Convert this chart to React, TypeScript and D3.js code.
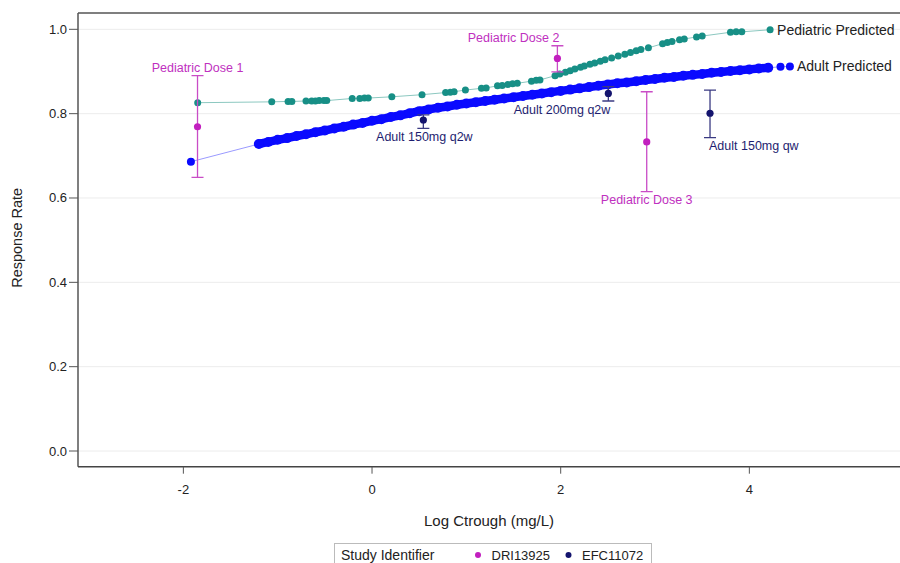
import React from "react";
import * as d3 from "d3";

// ---- Data ----
const pedPredX = [-1.848, -1.063, -0.89, -0.85, -0.7, -0.64, -0.6, -0.56, -0.51, -0.48, -0.21, -0.13, -0.08, -0.04, 0.21, 0.53, 0.78, 0.83, 0.87, 0.99, 1.16, 1.21, 1.33, 1.38, 1.44, 1.49, 1.54, 1.69, 1.74, 1.78, 1.94, 1.99, 2.05, 2.1, 2.15, 2.21, 2.25, 2.31, 2.36, 2.42, 2.47, 2.54, 2.61, 2.68, 2.74, 2.8, 2.85, 2.93, 3.08, 3.13, 3.18, 3.26, 3.31, 3.44, 3.5, 3.8, 3.86, 3.92, 4.22];
const pedPredY = [0.826, 0.828, 0.829, 0.829, 0.83, 0.83, 0.83, 0.831, 0.831, 0.831, 0.836, 0.836, 0.837, 0.837, 0.84, 0.845, 0.85, 0.851, 0.852, 0.856, 0.86, 0.861, 0.866, 0.867, 0.869, 0.871, 0.872, 0.877, 0.879, 0.88, 0.89, 0.894, 0.898, 0.902, 0.906, 0.91, 0.913, 0.917, 0.92, 0.924, 0.928, 0.932, 0.937, 0.941, 0.945, 0.949, 0.952, 0.956, 0.966, 0.969, 0.971, 0.975, 0.977, 0.982, 0.984, 0.993, 0.994, 0.994, 0.999];

const adultPredX = [-1.92, -1.2, -1.1, -1.0, -0.9, -0.8, -0.7, -0.6, -0.5, -0.4, -0.3, -0.2, -0.1, 0.0, 0.1, 0.2, 0.3, 0.4, 0.5, 0.6, 0.7, 0.8, 0.9, 1.0, 1.1, 1.2, 1.3, 1.4, 1.5, 1.6, 1.7, 1.8, 1.9, 2.0, 2.1, 2.2, 2.3, 2.4, 2.5, 2.6, 2.7, 2.8, 2.9, 3.0, 3.1, 3.2, 3.3, 3.4, 3.5, 3.6, 3.7, 3.8, 3.9, 4.0, 4.1, 4.2, 4.33, 4.43];
const adultPredY = [0.686, 0.728, 0.733, 0.738, 0.742, 0.747, 0.751, 0.756, 0.76, 0.765, 0.769, 0.774, 0.778, 0.783, 0.787, 0.792, 0.796, 0.801, 0.806, 0.81, 0.814, 0.817, 0.821, 0.824, 0.827, 0.83, 0.833, 0.836, 0.839, 0.842, 0.845, 0.848, 0.851, 0.854, 0.857, 0.86, 0.863, 0.866, 0.869, 0.872, 0.874, 0.877, 0.88, 0.882, 0.885, 0.887, 0.89, 0.892, 0.894, 0.897, 0.899, 0.901, 0.903, 0.905, 0.907, 0.909, 0.911, 0.912];

const obsLabels = ["Pediatric Dose 1", "Pediatric Dose 2", "Pediatric Dose 3", "Adult 150mg q2w", "Adult 200mg q2w", "Adult 150mg qw"];
const obsStudy = ["DRI13925", "DRI13925", "DRI13925", "EFC11072", "EFC11072", "EFC11072"];
const obsX = [-1.85, 1.965, 2.912, 0.544, 2.505, 3.583];
const obsY = [0.769, 0.931, 0.733, 0.785, 0.848, 0.801];
const obsLow = [0.649, 0.899, 0.615, 0.765, 0.83, 0.743];
const obsHigh = [0.89, 0.961, 0.852, 0.797, 0.864, 0.856];

const xTicks = [-2, 0, 2, 4];
const yTicks = [0.0, 0.2, 0.4, 0.6, 0.8, 1.0];
const studies = ["DRI13925", "EFC11072"];

// ---- Layout / style (not data) ----
const W = 900, H = 563;
const plotLeft = 78, plotRight = 905, plotTop = 13, plotBottom = 466.7;
const labelPlacement: { pos: "above" | "below"; anchor: "start" | "middle" | "end"; dx: number }[] = [
  { pos: "above", anchor: "middle", dx: 0 },
  { pos: "above", anchor: "end", dx: 2 },
  { pos: "below", anchor: "middle", dx: 0 },
  { pos: "below", anchor: "middle", dx: 1 },
  { pos: "below", anchor: "end", dx: 2 },
  { pos: "below", anchor: "start", dx: -1 },
];
const studyColor: Record<string, string> = { DRI13925: "#c21fbf", EFC11072: "#14146e" };
const studyBarColor: Record<string, string> = { DRI13925: "#c94cc6", EFC11072: "#3a3a82" };
const studyTextColor: Record<string, string> = { DRI13925: "#c030c0", EFC11072: "#1e1e70" };
const FONT = "'Liberation Sans', Arial, sans-serif";

export default function App() {
  const x = d3.scaleLinear().domain([-3.117, 5.65]).range([plotLeft, plotRight]);
  const y = d3.scaleLinear().domain([-0.0372, 1.0387]).range([plotBottom, plotTop]);

  const ped = pedPredX.map((v, i) => [v, pedPredY[i]] as [number, number]);
  const adult = adultPredX.map((v, i) => [v, adultPredY[i]] as [number, number]);
  const adultDense = adult.slice(1, adult.length - 2);
  const line = d3.line<[number, number]>().x((d) => x(d[0])).y((d) => y(d[1]));
  const fmt = d3.format(".1f");

  const pedLast = ped[ped.length - 1];
  const adultLast = adult[adult.length - 1];

  return (
    <svg width={W} height={H} style={{ position: "absolute", left: 0, top: 0, background: "#fff" }} fontFamily={FONT}>
      <defs>
        <clipPath id="plotclip">
          <rect x={plotLeft} y={plotTop} width={plotRight - plotLeft} height={plotBottom - plotTop} />
        </clipPath>
      </defs>
      {/* grid */}
      {yTicks.map((t) => (
        <line key={"g" + t} x1={plotLeft} x2={plotRight} y1={y(t)} y2={y(t)} stroke="#ececec" strokeWidth={1} />
      ))}

      <g clipPath="url(#plotclip)">
        {/* predicted lines */}
        <path d={line(ped) || ""} fill="none" stroke="#8cc8c0" strokeWidth={1} />
        <path d={line(adult) || ""} fill="none" stroke="#9a9aff" strokeWidth={1} />
        <path d={line(adultDense) || ""} fill="none" stroke="#0a0aff" strokeWidth={8.5} strokeLinecap="round" />
        {adult.map((d, i) => (
          <circle key={"a" + i} cx={x(d[0])} cy={y(d[1])} r={i === 0 || i >= adult.length - 2 ? 4 : 5} fill="#0a0aff" />
        ))}
        {ped.map((d, i) => (
          <circle key={"p" + i} cx={x(d[0])} cy={y(d[1])} r={3.5} fill="#178f86" />
        ))}

        {/* observed error bars */}
        {obsX.map((v, i) => {
          const c = studyBarColor[obsStudy[i]];
          const cx = x(v);
          return (
            <g key={"o" + i}>
              <line x1={cx} x2={cx} y1={y(obsLow[i])} y2={y(obsHigh[i])} stroke={c} strokeWidth={1.3} />
              <line x1={cx - 6} x2={cx + 6} y1={y(obsLow[i])} y2={y(obsLow[i])} stroke={c} strokeWidth={1.3} />
              <line x1={cx - 6} x2={cx + 6} y1={y(obsHigh[i])} y2={y(obsHigh[i])} stroke={c} strokeWidth={1.3} />
              <circle cx={cx} cy={y(obsY[i])} r={3.6} fill={studyColor[obsStudy[i]]} />
            </g>
          );
        })}
      </g>

      {/* observed labels */}
      {obsX.map((v, i) => {
        const p = labelPlacement[i];
        const ly = p.pos === "above" ? y(obsHigh[i]) - 4 : y(obsLow[i]) + 12.5;
        return (
          <text key={"l" + i} x={x(v) + p.dx} y={ly} textAnchor={p.anchor} fontSize={12.5} fill={studyTextColor[obsStudy[i]]}>
            {obsLabels[i]}
          </text>
        );
      })}

      {/* curve labels */}
      <text x={x(pedLast[0]) + 7} y={y(pedLast[1]) + 5} fontSize={14} fill="#222">Pediatric Predicted</text>
      <text x={x(adultLast[0]) + 7} y={y(adultLast[1]) + 5} fontSize={14} fill="#222">Adult Predicted</text>

      {/* frame */}
      <line x1={plotLeft} x2={plotRight} y1={plotTop} y2={plotTop} stroke="#555" strokeWidth={1.5} />
      <line x1={plotLeft} x2={plotLeft} y1={plotTop} y2={plotBottom} stroke="#555" strokeWidth={1.5} />
      <line x1={plotLeft} x2={plotRight} y1={plotBottom} y2={plotBottom} stroke="#444" strokeWidth={1.5} />

      {/* y axis */}
      {yTicks.map((t) => (
        <g key={"yt" + t}>
          <line x1={plotLeft - 9} x2={plotLeft} y1={y(t)} y2={y(t)} stroke="#555" strokeWidth={1} />
          <text x={plotLeft - 11} y={y(t) + 4.5} textAnchor="end" fontSize={13} fill="#222">{fmt(t)}</text>
        </g>
      ))}
      {/* x axis */}
      {xTicks.map((t) => (
        <g key={"xt" + t}>
          <line x1={x(t)} x2={x(t)} y1={plotBottom} y2={plotBottom + 7} stroke="#555" strokeWidth={1} />
          <text x={x(t)} y={plotBottom + 27} textAnchor="middle" fontSize={13} fill="#222">{t}</text>
        </g>
      ))}

      <text x={(plotLeft + 900) / 2} y={526} textAnchor="middle" fontSize={15} fill="#222">Log Ctrough (mg/L)</text>
      <text transform={`translate(22, ${(plotTop + plotBottom) / 2 - 2}) rotate(-90)`} textAnchor="middle" fontSize={14.5} fill="#222">Response Rate</text>

      {/* legend */}
      <rect x={334.5} y={543.5} width={317} height={30} fill="#fff" stroke="#bbb" strokeWidth={1} />
      <text x={341} y={560} fontSize={14} fill="#222">Study Identifier</text>
      {studies.map((s, i) => (
        <g key={"lg" + s}>
          <circle cx={478 + i * 90.5} cy={555} r={3} fill={studyColor[s]} />
          <text x={491.5 + i * 90.5} y={560} fontSize={13} fill="#222">{s}</text>
        </g>
      ))}
    </svg>
  );
}
